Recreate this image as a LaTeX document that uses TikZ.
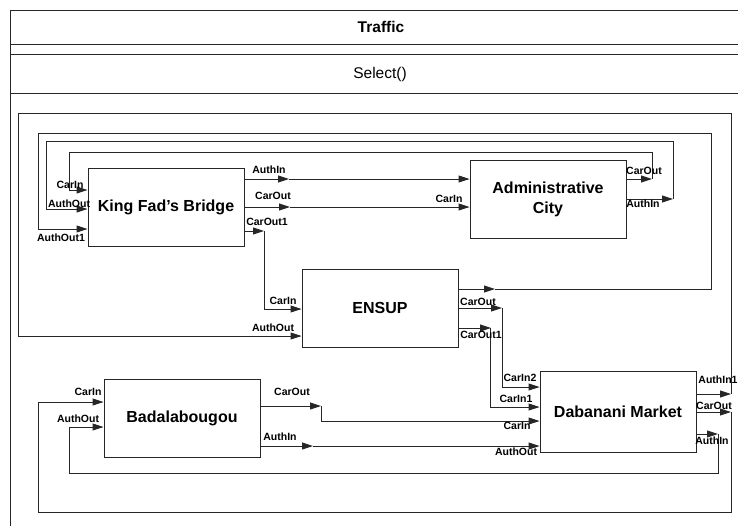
\documentclass[tikz,border=0pt]{standalone}
\usepackage{fontspec}
\setmainfont{Liberation Sans}
\usetikzlibrary{arrows.meta}

\tikzset{
  wire/.style={line width=0.9pt, draw=black!85},
  arr/.style={wire, -{Triangle[length=11pt,width=7pt]}},
  blk/.style={draw=black!85, line width=0.9pt, minimum width=156pt, minimum height=78pt,
              inner sep=0pt, align=center, font=\bfseries\fontsize{16}{20}\selectfont},
  lbl/.style={inner sep=0pt, font=\bfseries\fontsize{10.5}{12}\selectfont},
  head/.style={inner sep=0pt, font=\fontsize{15.5}{18}\selectfont},
}

\begin{document}
\begin{tikzpicture}[x=1pt, y=-1pt]
\useasboundingbox (0,0) rectangle (738,525);

% class frame: name and operation compartments
\draw[wire] (10,530) -- (10,10) -- (745,10);
\draw[wire] (10,44) -- (745,44);
\draw[wire] (10,54) -- (745,54);
\draw[wire] (10,93) -- (745,93);
\node[head, font=\bfseries\fontsize{15.5}{18}\selectfont] (title) at (381,27) {Traffic};
\node[head] (oper) at (380,74) {Select()};

% blocks
\node[blk] (kfb) at (166,207) {King Fad’s Bridge};
\node[blk] (adm) at (548,199) {Administrative\\City};
\node[blk] (ens) at (380,308) {ENSUP};
\node[blk] (bad) at (182,418) {Badalabougou};
\node[blk, minimum height=81pt] (dab) at (618,411.5) {Dabanani Market};

% King Fad's Bridge outputs
\coordinate (kAI) at (289,179);
\draw[arr] (kfb.east |- kAI) -- (kAI);
\draw[arr] (kAI) -- (adm.west |- kAI);
\coordinate (kCO) at (290,207);
\draw[arr] (kfb.east |- kCO) -- (kCO);
\draw[arr] (kCO) -- (adm.west |- kCO);
\coordinate (kCO1) at (264,231);
\draw[arr] (kfb.east |- kCO1) -- (kCO1);
\draw[arr] (kCO1) -- (264,309) -- (ens.west |- 0,309);

% Administrative City outputs back to King Fad's Bridge
\coordinate (aCO) at (652,179);
\draw[arr] (adm.east |- aCO) -- (aCO);
\draw[arr] (aCO) -- (652,152) -- (69,152) -- (69,190) -- (kfb.west |- 0,190);
\coordinate (aAI) at (673,199);
\draw[arr] (adm.east |- aAI) -- (aAI);
\draw[arr] (aAI) -- (673,141) -- (46,141) -- (46,209) -- (kfb.west |- 0,209);

% ENSUP outputs
\coordinate (eAI) at (495,289);
\draw[arr] (ens.east |- eAI) -- (eAI);
\draw[arr] (eAI) -- (711,289) -- (711,133) -- (38,133) -- (38,229) -- (kfb.west |- 0,229);
\coordinate (eCO) at (502,308);
\draw[arr] (ens.east |- eCO) -- (eCO);
\draw[arr] (eCO) -- (502,387) -- (dab.west |- 0,387);
\coordinate (eCO1) at (491,328);
\draw[arr] (ens.east |- eCO1) -- (eCO1);
\draw[arr] (eCO1) -- (490,328) -- (490,407) -- (dab.west |- 0,407);

% Dabanani Market outputs
\coordinate (dAI1) at (731,394);
\draw[arr] (dab.east |- dAI1) -- (dAI1);
\draw[arr] (dAI1) -- (731,113) -- (18,113) -- (18,336) -- (ens.west |- 0,336);
\coordinate (dCO) at (731,412);
\draw[arr] (dab.east |- dCO) -- (dCO);
\draw[arr] (dCO) -- (731,512) -- (38,512) -- (38,402) -- (bad.west |- 0,402);
\coordinate (dAI) at (718,434);
\draw[arr] (dab.east |- dAI) -- (dAI);
\draw[arr] (dAI) -- (718,473) -- (69,473) -- (69,427) -- (bad.west |- 0,427);

% Badalabougou outputs
\coordinate (bCO) at (321,406);
\draw[arr] (bad.east |- bCO) -- (bCO);
\draw[arr] (bCO) -- (321,421) -- (dab.west |- 0,421);
\coordinate (bAI) at (313,446);
\draw[arr] (bad.east |- bAI) -- (bAI);
\draw[arr] (bAI) -- (dab.west |- bAI);

% port labels
\node[lbl] (l1) at (70,185) {CarIn};
\node[lbl] (l2) at (69,204) {AuthOut};
\node[lbl] (l3) at (61,238) {AuthOut1};
\node[lbl] (l4) at (269,170) {AuthIn};
\node[lbl] (l5) at (273,196) {CarOut};
\node[lbl] (l6) at (267,222) {CarOut1};

\node[lbl] (l7) at (449,199) {CarIn};
\node[lbl] (l8) at (644,171) {CarOut};
\node[lbl] (l9) at (643,204) {AuthIn};

\node[lbl] (l10) at (283,301) {CarIn};
\node[lbl] (l11) at (273,328) {AuthOut};
\node[lbl] (l12) at (478,302) {CarOut};
\node[lbl] (l13) at (481,335) {CarOut1};

\node[lbl] (l14) at (520,378) {CarIn2};
\node[lbl] (l15) at (516,399) {CarIn1};
\node[lbl] (l16) at (517,426) {CarIn};
\node[lbl] (l17) at (516,452) {AuthOut};
\node[lbl] (l18) at (718,380) {AuthIn1};
\node[lbl] (l19) at (714,406) {CarOut};
\node[lbl] (l20) at (712,441) {AuthIn};

\node[lbl] (l21) at (88,392) {CarIn};
\node[lbl] (l22) at (78,419) {AuthOut};
\node[lbl] (l23) at (292,392) {CarOut};
\node[lbl] (l24) at (280,437) {AuthIn};
\end{tikzpicture}
\end{document}
